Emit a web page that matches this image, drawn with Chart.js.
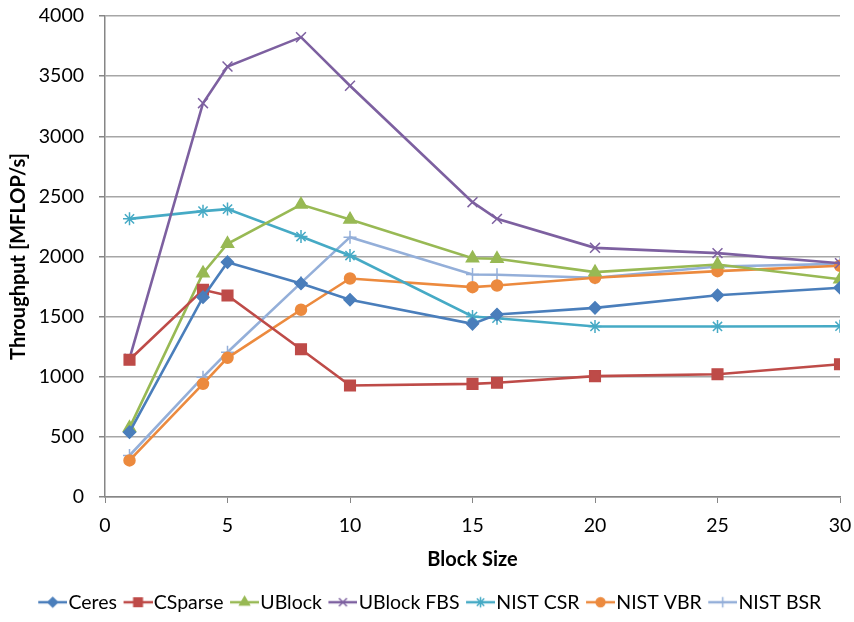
<!DOCTYPE html>
<html>
<head>
<meta charset="utf-8">
<script src="https://cdn.jsdelivr.net/npm/chart.js@4/dist/chart.umd.min.js"></script>
<style>
  html, body { margin: 0; padding: 0; background: #fff; }
  #wrap { width: 854px; height: 622px; position: relative; }
</style>
</head>
<body>
<div id="wrap"><canvas id="chart" width="854" height="622"></canvas></div>
<script>
// Data
const blockSizes = [1, 4, 5, 8, 10, 15, 16, 20, 25, 30];
const ceres    = [539, 1662, 1953, 1775, 1640, 1440, 1518, 1573, 1678, 1740];
const csparse  = [1141, 1723, 1676, 1229, 927, 941, 950, 1005, 1021, 1104];
const ublock   = [575, 1861, 2106, 2432, 2308, 1986, 1981, 1870, 1933, 1811];
const ublockFbs = [1150, 3275, 3580, 3824, 3420, 2452, 2313, 2072, 2028, 1944];
const nistCsr  = [2313, 2377, 2394, 2166, 2008, 1501, 1487, 1418, 1418, 1420];
const nistVbr  = [304, 941, 1157, 1557, 1817, 1745, 1759, 1823, 1878, 1923];
const nistBsr  = [345, 996, 1204, 1781, 2161, 1850, 1848, 1823, 1917, 1939];

const seriesNames = ['Ceres', 'CSparse', 'UBlock', 'UBlock FBS', 'NIST CSR', 'NIST VBR', 'NIST BSR'];
const seriesValues = [ceres, csparse, ublock, ublockFbs, nistCsr, nistVbr, nistBsr];

const colors = ['#4a7ebb', '#be4b48', '#98b954', '#7d60a0', '#46aac5', '#ec8a3e', '#94afd9'];
const markers = ['rectRot', 'rect', 'triangle', 'crossRot', 'star', 'circle', 'cross'];
const radii = [6, 7.5, 7, 7, 6.5, 5.5, 6.5];

const FONT = 'Lato, "Open Sans", sans-serif';
const axisGrey = '#868686';

// legend key: short line with the marker, drawn into the right part of a wider image
// so it sits inside the legend box instead of hanging off its left side
function legendIcon(i) {
    const c = document.createElement('canvas');
    c.width = 37; c.height = 16;
    const ctx = c.getContext('2d');
    ctx.strokeStyle = colors[i];
    ctx.fillStyle = colors[i];
    ctx.lineWidth = 2.5;
    ctx.beginPath();
    ctx.moveTo(8, 8); ctx.lineTo(37, 8);
    ctx.stroke();
    ctx.lineWidth = 1.5;
    Chart.helpers.drawPoint(ctx, { pointStyle: markers[i], radius: radii[i] * 0.8, borderWidth: 1.5, rotation: 0 }, 22.5, 8);
    return c;
}

function buildChart() {
    const datasets = seriesNames.map((name, i) => ({
        label: name,
        data: blockSizes.map((x, j) => ({ x: x, y: seriesValues[i][j] })),
        borderColor: colors[i],
        backgroundColor: colors[i],
        borderWidth: 2.6,
        pointStyle: markers[i],
        pointRadius: radii[i],
        pointBorderWidth: 1.5,
        pointBackgroundColor: colors[i],
        pointBorderColor: colors[i],
        tension: 0
    }));
    const icons = seriesNames.map((_, i) => legendIcon(i));

    new Chart(document.getElementById('chart'), {
        type: 'line',
        data: { datasets: datasets },
        options: {
            responsive: false,
            animation: false,
            layout: { padding: { top: 16, right: 14, left: 20, bottom: 0 } },
            plugins: {
                tooltip: { enabled: false },
                legend: {
                    position: 'bottom',
                    labels: {
                        usePointStyle: true,
                        pointStyleWidth: 20,
                        padding: 7,
                        color: '#000',
                        font: { family: FONT, size: 19.5 },
                        generateLabels: (chart) => {
                            const items = Chart.defaults.plugins.legend.labels.generateLabels(chart);
                            items.forEach((it, i) => { it.pointStyle = icons[i]; });
                            return items;
                        }
                    }
                }
            },
            scales: {
                x: {
                    type: 'linear',
                    min: 0,
                    max: 30,
                    afterFit: (scale) => { scale.height = 88.5; scale.paddingRight = 0; scale.paddingLeft = 0; },
                    ticks: { stepSize: 5, color: '#000', padding: 11, font: { family: FONT, size: 19.5 } },
                    grid: { drawOnChartArea: false, drawTicks: true, tickLength: 6, color: axisGrey },
                    border: { color: axisGrey, width: 1.5 },
                    title: { display: true, text: 'Block Size', color: '#000', padding: { top: 2, bottom: 14 }, font: { family: FONT, size: 20, weight: 'bold' } }
                },
                y: {
                    min: 0,
                    max: 4000,
                    afterFit: (scale) => { scale.width = 85; scale.paddingTop = 0; scale.paddingBottom = 0; },
                    ticks: { stepSize: 500, color: '#000', padding: 15, font: { family: FONT, size: 19.5 },
                             callback: (v) => String(v) },
                    grid: { color: '#a6a6a6', lineWidth: 1.5, tickLength: 6, tickColor: axisGrey },
                    border: { color: axisGrey, width: 1.5 },
                    title: { display: true, text: 'Throughput [MFLOP/s]', color: '#000', padding: { top: -13, bottom: 4 }, font: { family: FONT, size: 20, weight: 'bold' } }
                }
            }
        }
    });
}

Promise.all([
    document.fonts.load('19px Lato'),
    document.fonts.load('bold 20px Lato')
]).then(buildChart, buildChart);
</script>
</body>
</html>
